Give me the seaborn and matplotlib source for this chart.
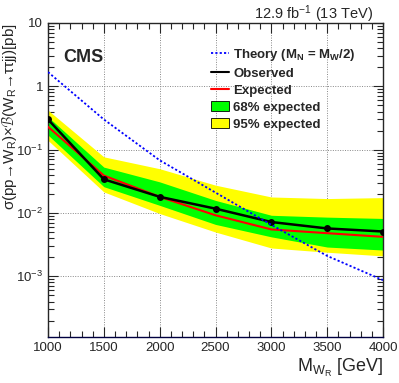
import numpy as np
import pandas as pd
import matplotlib
matplotlib.use('Agg')
import matplotlib.pyplot as plt
import matplotlib.ticker as mticker
from matplotlib.patches import Patch
from matplotlib.lines import Line2D
import seaborn as sns

# Limits
mass = [1000, 1500, 2000, 2500, 3000, 3500, 4000]
observed = [0.30, 0.034, 0.018, 0.0117, 0.0072, 0.0057, 0.0051]
expected = [0.23, 0.039, 0.018, 0.0092, 0.0055, 0.0048, 0.0042]
band68_lo = [0.17, 0.026, 0.0132, 0.0066, 0.0042, 0.0029, 0.0026]
band68_hi = [0.33, 0.053, 0.031, 0.0158, 0.0092, 0.0086, 0.0082]
band95_lo = [0.14, 0.0215, 0.0098, 0.0050, 0.0028, 0.0024, 0.0021]
band95_hi = [0.42, 0.077, 0.050, 0.0275, 0.0179, 0.0169, 0.0175]
theory = [1.68, 0.30, 0.068, 0.021, 0.0065, 0.0021, 0.00087]

x_ticks = [1000, 1500, 2000, 2500, 3000, 3500, 4000]
y_ticks = [1e-3, 1e-2, 1e-1, 1, 10]
y_tick_labels = [r'$10^{-3}$', r'$10^{-2}$', r'$10^{-1}$', '1', '10']

df = pd.DataFrame({'mass': mass, 'observed': observed, 'expected': expected,
                   'theory': theory})

sns.set_style('ticks')
plt.rcParams['font.family'] = ['Liberation Sans', 'DejaVu Sans']
plt.rcParams['mathtext.fontset'] = 'custom'
plt.rcParams['mathtext.rm'] = 'Liberation Sans'
plt.rcParams['mathtext.it'] = 'Liberation Sans:italic'
plt.rcParams['mathtext.bf'] = 'Liberation Sans:bold'

fig = plt.figure(figsize=(3.99, 3.83), dpi=100)
ax = fig.add_axes([0.1203, 0.120, 0.8397, 0.820])

ax.fill_between(mass, band95_lo, band95_hi, color='#ffff00', lw=0, zorder=1)
ax.fill_between(mass, band68_lo, band68_hi, color='#00ff00', lw=0, zorder=2)
sns.lineplot(data=df, x='mass', y='expected', color='red', lw=1.5, ax=ax, zorder=3)
sns.lineplot(data=df, x='mass', y='observed', color='black', lw=1.8, marker='o',
             markersize=5, markeredgewidth=0, ax=ax, zorder=4)
sns.lineplot(data=df, x='mass', y='theory', color='blue', lw=1.3, ax=ax, zorder=5,
             linestyle=(0, (1.2, 1.2)))

ax.set_yscale('log')
ax.set_xlim(1000, 4000)
ax.set_ylim(1.1e-4, 10)
ax.set_xticks(x_ticks)
ax.xaxis.set_minor_locator(mticker.MultipleLocator(100))
ax.set_yticks(y_ticks)
ax.set_yticklabels(y_tick_labels)
ax.yaxis.set_minor_locator(mticker.LogLocator(base=10, subs=np.arange(2, 10), numticks=20))
ax.yaxis.set_minor_formatter(mticker.NullFormatter())
ax.tick_params(which='both', direction='in', top=True, right=True, labelsize=9.5)
ax.tick_params(which='major', length=7, width=0.8)
ax.tick_params(which='minor', length=4, width=0.8)
ax.grid(True, which='major', color='#888888', linestyle=(0, (1, 1.5)), lw=0.7)
for s in ax.spines.values():
    s.set_linewidth(1.0)
ax.spines['bottom'].set_color('#000040')

ax.set_xlabel(r'M$_{\rm W_{R}}$ [GeV]', fontsize=13, loc='right', labelpad=2)
ax.set_ylabel('σ(pp→W$_{\\rm R}$)×$\\mathcal{B}$(W$_{\\rm R}$→ττjj)[pb]',
              fontsize=11, loc='top')
ax.yaxis.set_label_coords(-0.088, 1.0)

ax.text(0.045, 0.89, 'CMS', transform=ax.transAxes, fontsize=13, fontweight='bold',
        va='center', ha='left')
fig.text(0.935, 0.962, r'12.9 fb$^{-1}$ (13 TeV)', fontsize=10.5, ha='right', va='center')

handles = [
    Line2D([], [], color='blue', lw=1.3, linestyle=(0, (1.2, 1.2))),
    Line2D([], [], color='black', lw=1.5),
    Line2D([], [], color='red', lw=1.5),
    Patch(facecolor='#00ff00', edgecolor='black', lw=0.6),
    Patch(facecolor='#ffff00', edgecolor='black', lw=0.6),
]
labels = [r'Theory (M$_{\mathbf{N}}$ = M$_{\mathbf{W}}$/2)', 'Observed', 'Expected',
          '68% expected', '95% expected']
ax.legend(handles, labels, loc='upper left', bbox_to_anchor=(0.47, 0.94), frameon=False,
          prop={'weight': 'bold', 'size': 9.5}, handlelength=1.4, handletextpad=0.3,
          labelspacing=0.35, borderaxespad=0)

fig.savefig('out.png', dpi=100)
